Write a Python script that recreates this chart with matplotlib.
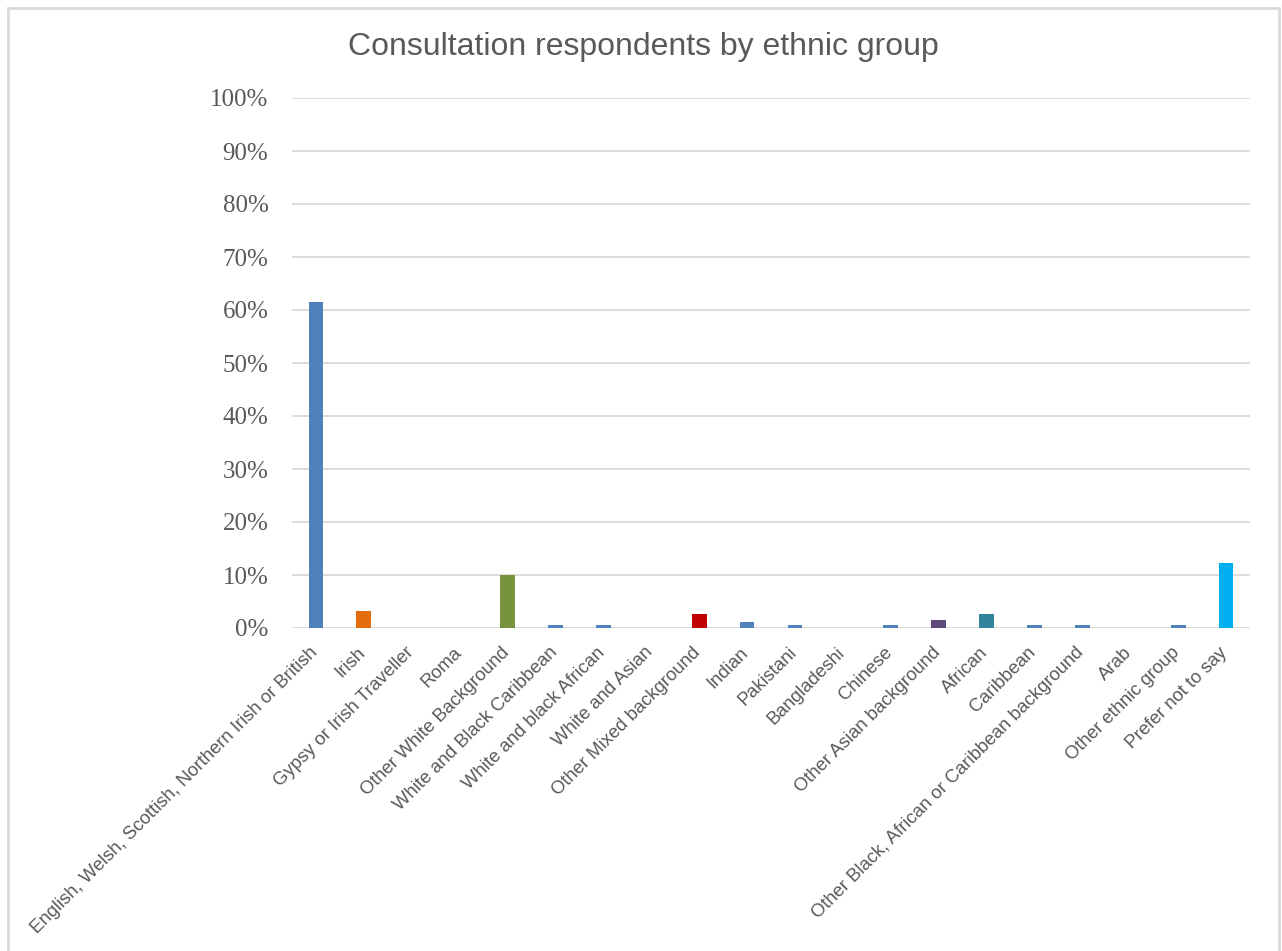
import matplotlib
matplotlib.use("Agg")
import matplotlib.pyplot as plt
from matplotlib.patches import Rectangle
from matplotlib.ticker import FuncFormatter, MultipleLocator
from matplotlib.transforms import ScaledTranslation

# Ethnic group categories and share of respondents (fraction of total)
categories = [
    "English, Welsh, Scottish, Northern Irish or British",
    "Irish",
    "Gypsy or Irish Traveller",
    "Roma",
    "Other White Background",
    "White and Black Caribbean",
    "White and black African",
    "White and Asian",
    "Other Mixed background",
    "Indian",
    "Pakistani",
    "Bangladeshi",
    "Chinese",
    "Other Asian background",
    "African",
    "Caribbean",
    "Other Black, African or Caribbean background",
    "Arab",
    "Other ethnic group",
    "Prefer not to say",
]
shares = [
    0.615, 0.032, 0.0, 0.0, 0.100, 0.005, 0.005, 0.0, 0.026, 0.011,
    0.005, 0.0, 0.005, 0.015, 0.026, 0.005, 0.005, 0.0, 0.005, 0.123,
]
bar_colors = [
    "#4F81BD", "#E46C0A", "#4F81BD", "#4F81BD", "#77933C", "#4F81BD",
    "#4F81BD", "#4F81BD", "#C00000", "#4F81BD", "#4F81BD", "#4F81BD",
    "#4F81BD", "#604A7B", "#31849B", "#4F81BD", "#4F81BD", "#4F81BD",
    "#4F81BD", "#00B0F0",
]

text_color = "#595959"
grid_color = "#D9D9D9"

fig = plt.figure(figsize=(12.82, 9.51), dpi=100)
fig.patch.set_facecolor("white")

# Chart frame
fig.patches.append(Rectangle((8 / 1282, -0.01), (1279 - 8) / 1282, 1 - 8 / 951 + 0.01,
                             transform=fig.transFigure, fill=False,
                             edgecolor=grid_color, linewidth=2))

ax = fig.add_axes([292 / 1282, 1 - 628 / 951, (1250 - 292) / 1282, (628 - 98) / 951])

x = list(range(len(categories)))
ax.bar(x, shares, width=0.31, color=bar_colors, zorder=3)

ax.set_xlim(-0.5, len(categories) - 0.5)
ax.set_ylim(0, 1.0)
ax.yaxis.set_major_locator(MultipleLocator(0.1))
ax.yaxis.set_major_formatter(FuncFormatter(lambda v, _: f"{v * 100:.0f}%"))
ax.grid(axis="y", color=grid_color, linewidth=1.3, zorder=0)
ax.set_axisbelow(True)

for side in ("top", "right", "left", "bottom"):
    ax.spines[side].set_visible(False)

ax.tick_params(axis="both", length=0)
ax.tick_params(axis="y", pad=17, labelsize=18, labelcolor=text_color)
for lbl in ax.get_yticklabels():
    lbl.set_fontfamily("Liberation Serif")

ax.set_xticks(x)
ax.set_xticklabels(categories, rotation=45, ha="right", rotation_mode="anchor",
                   fontsize=13.3, color=text_color, fontfamily="Liberation Sans")
ax.tick_params(axis="x", pad=10)
shift = ScaledTranslation(-7 / 100, -2 / 100, fig.dpi_scale_trans)
for lbl in ax.get_xticklabels():
    lbl.set_transform(lbl.get_transform() + shift)

fig.text(0.5015, 1 - 47 / 951, "Consultation respondents by ethnic group",
         ha="center", va="center", fontsize=23, color=text_color,
         fontfamily="Liberation Sans")

fig.savefig("out.png", dpi=100, facecolor="white")
